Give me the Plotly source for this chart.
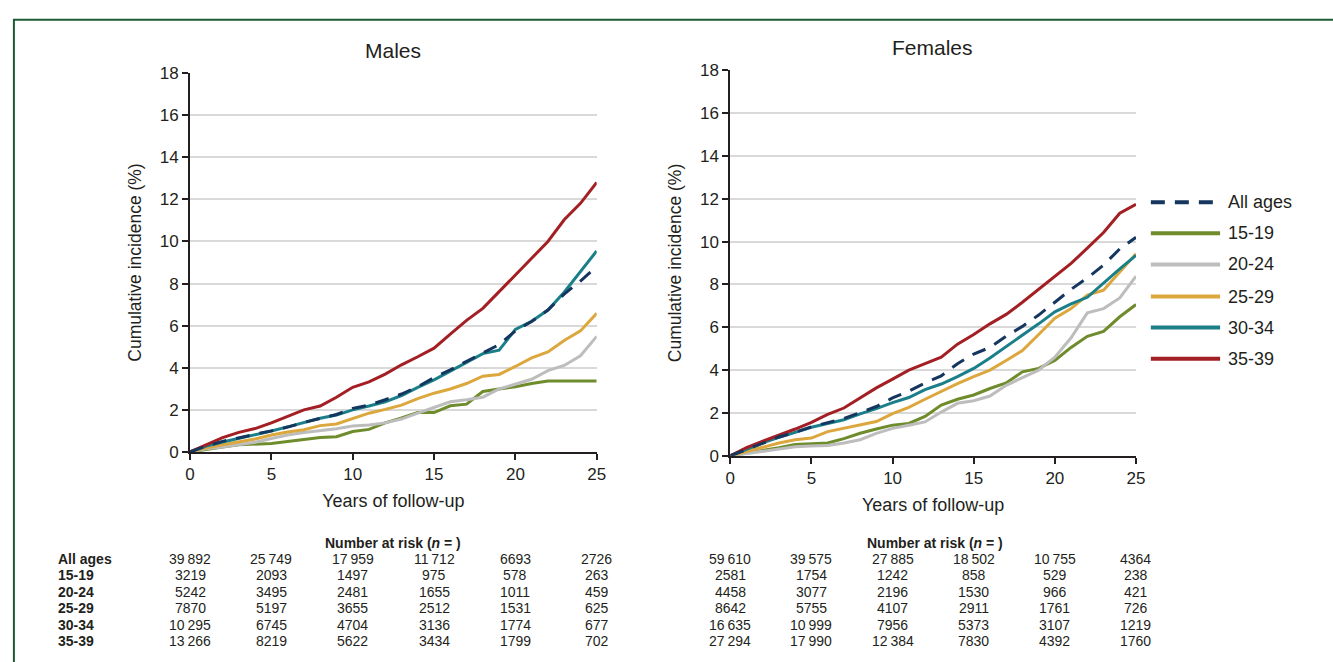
import plotly.graph_objects as go

years = list(range(0, 26))
series_names = ["All ages", "15-19", "20-24", "25-29", "30-34", "35-39"]
series_colors = ["#15365e", "#6f8c2c", "#bdbdbd", "#dca73c", "#1b7f8a", "#a31f24"]

# Males cumulative incidence (%)
males_all = [0, 0.28, 0.5, 0.68, 0.84, 1.0, 1.18, 1.4, 1.6, 1.78, 2.07, 2.22, 2.48, 2.75, 3.1,
             3.53, 3.9, 4.3, 4.7, 5.1, 5.75, 6.2, 6.74, 7.5, 8.12, 8.81]
males_1519 = [0, 0.1, 0.23, 0.34, 0.38, 0.4, 0.49, 0.58, 0.68, 0.72, 0.97, 1.07, 1.38, 1.61, 1.87,
              1.87, 2.19, 2.27, 2.87, 2.99, 3.1, 3.25, 3.37, 3.37, 3.37, 3.37]
males_2024 = [0, 0.15, 0.23, 0.34, 0.46, 0.64, 0.8, 0.92, 1.0, 1.1, 1.23, 1.28, 1.38, 1.56, 1.84,
              2.11, 2.38, 2.48, 2.6, 2.99, 3.22, 3.45, 3.86, 4.11, 4.57, 5.49]
males_2529 = [0, 0.2, 0.34, 0.46, 0.61, 0.8, 0.95, 1.05, 1.25, 1.33, 1.6, 1.84, 2.02, 2.22, 2.53,
              2.79, 2.99, 3.25, 3.6, 3.68, 4.06, 4.47, 4.75, 5.29, 5.75, 6.59]
males_3034 = [0, 0.28, 0.47, 0.64, 0.8, 0.99, 1.19, 1.41, 1.6, 1.75, 2.0, 2.18, 2.38, 2.68, 3.07,
              3.42, 3.83, 4.25, 4.67, 4.83, 5.82, 6.21, 6.74, 7.59, 8.58, 9.55]
males_3539 = [0, 0.34, 0.68, 0.93, 1.11, 1.38, 1.69, 2.0, 2.18, 2.6, 3.07, 3.33, 3.7, 4.14, 4.52,
              4.93, 5.6, 6.25, 6.82, 7.63, 8.43, 9.2, 10.0, 11.03, 11.81, 12.8]

# Females cumulative incidence (%)
females_all = [0, 0.3, 0.6, 0.88, 1.1, 1.35, 1.55, 1.74, 2.02, 2.3, 2.7, 3.02, 3.4, 3.73, 4.3,
               4.75, 5.06, 5.58, 6.04, 6.57, 7.17, 7.77, 8.3, 8.9, 9.66, 10.2]
females_1519 = [0, 0.12, 0.27, 0.38, 0.53, 0.56, 0.6, 0.8, 1.05, 1.25, 1.43, 1.51, 1.84, 2.37, 2.64,
                2.84, 3.14, 3.4, 3.92, 4.08, 4.45, 5.06, 5.58, 5.81, 6.49, 7.06]
females_2024 = [0, 0.1, 0.23, 0.33, 0.42, 0.46, 0.48, 0.6, 0.75, 1.05, 1.28, 1.43, 1.58, 2.04, 2.45,
                2.57, 2.79, 3.29, 3.65, 4.0, 4.6, 5.51, 6.67, 6.87, 7.37, 8.38]
females_2529 = [0, 0.2, 0.38, 0.6, 0.75, 0.83, 1.13, 1.28, 1.45, 1.6, 1.97, 2.26, 2.64, 3.02, 3.37,
                3.7, 4.0, 4.45, 4.91, 5.66, 6.42, 6.87, 7.5, 7.73, 8.6, 9.43]
females_3034 = [0, 0.3, 0.6, 0.86, 1.09, 1.33, 1.51, 1.68, 1.96, 2.2, 2.48, 2.72, 3.09, 3.35, 3.7,
                4.08, 4.57, 5.09, 5.62, 6.16, 6.72, 7.09, 7.4, 8.08, 8.72, 9.36]
females_3539 = [0, 0.38, 0.68, 0.95, 1.25, 1.56, 1.93, 2.23, 2.69, 3.17, 3.58, 4.0, 4.3, 4.6, 5.21,
                5.66, 6.16, 6.6, 7.17, 7.77, 8.38, 8.98, 9.69, 10.42, 11.32, 11.74]

males_series = [males_all, males_1519, males_2024, males_2529, males_3034, males_3539]
females_series = [females_all, females_1519, females_2024, females_2529, females_3034, females_3539]

# Number at risk tables
risk_years = [0, 5, 10, 15, 20, 25]
males_risk = [
    ["39\u2009892", "25\u2009749", "17\u2009959", "11\u2009712", "6693", "2726"],
    ["3219", "2093", "1497", "975", "578", "263"],
    ["5242", "3495", "2481", "1655", "1011", "459"],
    ["7870", "5197", "3655", "2512", "1531", "625"],
    ["10\u2009295", "6745", "4704", "3136", "1774", "677"],
    ["13\u2009266", "8219", "5622", "3434", "1799", "702"],
]
females_risk = [
    ["59\u2009610", "39\u2009575", "27\u2009885", "18\u2009502", "10\u2009755", "4364"],
    ["2581", "1754", "1242", "858", "529", "238"],
    ["4458", "3077", "2196", "1530", "966", "421"],
    ["8642", "5755", "4107", "2911", "1761", "726"],
    ["16\u2009635", "10\u2009999", "7956", "5373", "3107", "1219"],
    ["27\u2009294", "17\u2009990", "12\u2009384", "7830", "4392", "1760"],
]

W, H = 1333, 662
FONT = "Liberation Sans, Arial, sans-serif"
TXT = "#231f20"


def px(x):
    return x / W


def py(y):
    return 1 - y / H


fig = go.Figure()

# draw age groups first, then the dashed "All ages" line on top
draw_order = [1, 2, 3, 4, 5, 0]
for i in draw_order:
    name = series_names[i]
    dash = "14px,10px" if i == 0 else "solid"
    fig.add_trace(go.Scatter(x=years, y=males_series[i], mode="lines", name=name,
                             line=dict(color=series_colors[i], width=3, dash=dash),
                             xaxis="x", yaxis="y", showlegend=False, hoverinfo="skip"))
for i in draw_order:
    name = series_names[i]
    dash = "14px,10px" if i == 0 else "solid"
    fig.add_trace(go.Scatter(x=years, y=females_series[i], mode="lines", name=name,
                             line=dict(color=series_colors[i], width=3, dash=dash),
                             xaxis="x2", yaxis="y2", showlegend=False, hoverinfo="skip"))

axis_common = dict(showline=True, linecolor=TXT, linewidth=2, ticks="outside", ticklen=6,
                   tickwidth=2, tickcolor=TXT, tickfont=dict(family=FONT, size=17, color=TXT),
                   zeroline=False)

xcommon = dict(axis_common, range=[0, 25], tickvals=[0, 5, 10, 15, 20, 25], showgrid=False,
               title=dict(text="Years of follow-up", font=dict(family=FONT, size=18, color=TXT), standoff=11))
ycommon = dict(axis_common, range=[0, 18], tickvals=list(range(0, 19, 2)), showgrid=True,
               gridcolor="#d9d9d9", gridwidth=1.5,
               title=dict(text="Cumulative incidence (%)", font=dict(family=FONT, size=17.5, color=TXT), standoff=14))

fig.update_layout(
    autosize=True,
    margin=dict(l=0, r=0, t=0, b=0),
    paper_bgcolor="white", plot_bgcolor="white",
    font=dict(family=FONT, color=TXT),
    showlegend=False,
    xaxis=dict(xcommon, domain=[px(187), px(598)], anchor="y"),
    yaxis=dict(ycommon, domain=[py(456), py(66)], anchor="x"),
    xaxis2=dict(xcommon, domain=[px(733), px(1143)], anchor="y2"),
    yaxis2=dict(ycommon, domain=[py(460), py(63)], anchor="x2"),
)

annotations = []
shapes = []

# Panel titles
annotations.append(dict(text="Males", x=px(392), y=py(43), xref="paper", yref="paper",
                        xanchor="center", yanchor="middle",
                        showarrow=False, font=dict(family=FONT, size=21, color=TXT)))
annotations.append(dict(text="Females", x=px(937), y=py(40), xref="paper", yref="paper",
                        xanchor="center", yanchor="middle",
                        showarrow=False, font=dict(family=FONT, size=21, color=TXT)))

# Manual legend
leg_rows = [199, 231, 263, 296, 328, 360]
for i, name in enumerate(series_names):
    shapes.append(dict(type="line", xref="paper", yref="paper",
                       x0=px(1158), x1=px(1228), y0=py(leg_rows[i]), y1=py(leg_rows[i]),
                       line=dict(color=series_colors[i], width=4,
                                 dash="14px,10px" if i == 0 else "solid")))
    annotations.append(dict(text=name, x=px(1234), y=py(leg_rows[i]), xref="paper", yref="paper",
                            xanchor="left", yanchor="middle", showarrow=False,
                            font=dict(family=FONT, size=18, color=TXT)))

# Number at risk tables
header_y = 550
row_ys = [566, 583, 600, 617, 634, 651]
for xa, risk, hx in [("x", males_risk, 392), ("x2", females_risk, 940)]:
    annotations.append(dict(text="<b>Number at risk (<i>n</i> = )</b>", x=px(hx), y=py(header_y),
                            xref="paper", yref="paper", xanchor="center", yanchor="middle",
                            showarrow=False, font=dict(family=FONT, size=14, color=TXT)))
    for r, row in enumerate(risk):
        for c, val in enumerate(row):
            annotations.append(dict(text=val, x=risk_years[c], y=py(row_ys[r]), xref=xa, yref="paper",
                                    xanchor="center", yanchor="middle",
                                    showarrow=False, font=dict(family=FONT, size=14, color=TXT)))
for r, name in enumerate(series_names):
    annotations.append(dict(text="<b>" + name + "</b>", x=px(52), y=py(row_ys[r]), xref="paper",
                            yref="paper", xanchor="left", yanchor="middle", showarrow=False,
                            font=dict(family=FONT, size=14, color=TXT)))

# Frame (top and left edges visible)
shapes.append(dict(type="rect", xref="paper", yref="paper", x0=px(9), x1=1.05, y0=-0.05, y1=py(11),
                   line=dict(color="#1d5c33", width=2), layer="above"))

fig.update_layout(annotations=annotations, shapes=shapes)

post = (
    "document.documentElement.style.margin='0';"
    "document.documentElement.style.overflow='hidden';"
    "document.body.style.margin='0';"
    "document.body.style.overflow='hidden';"
    "var d=document.getElementsByClassName('plotly-graph-div')[0];"
    "d.style.position='fixed';d.style.left='0px';d.style.top='0px';"
    "d.style.width='100vw';d.style.height='100vh';"
    "Plotly.Plots.resize(d);"
)

fig.write_html("out.html", config={"displayModeBar": False, "responsive": True},
               default_width="100vw", default_height="100vh", post_script=post)
